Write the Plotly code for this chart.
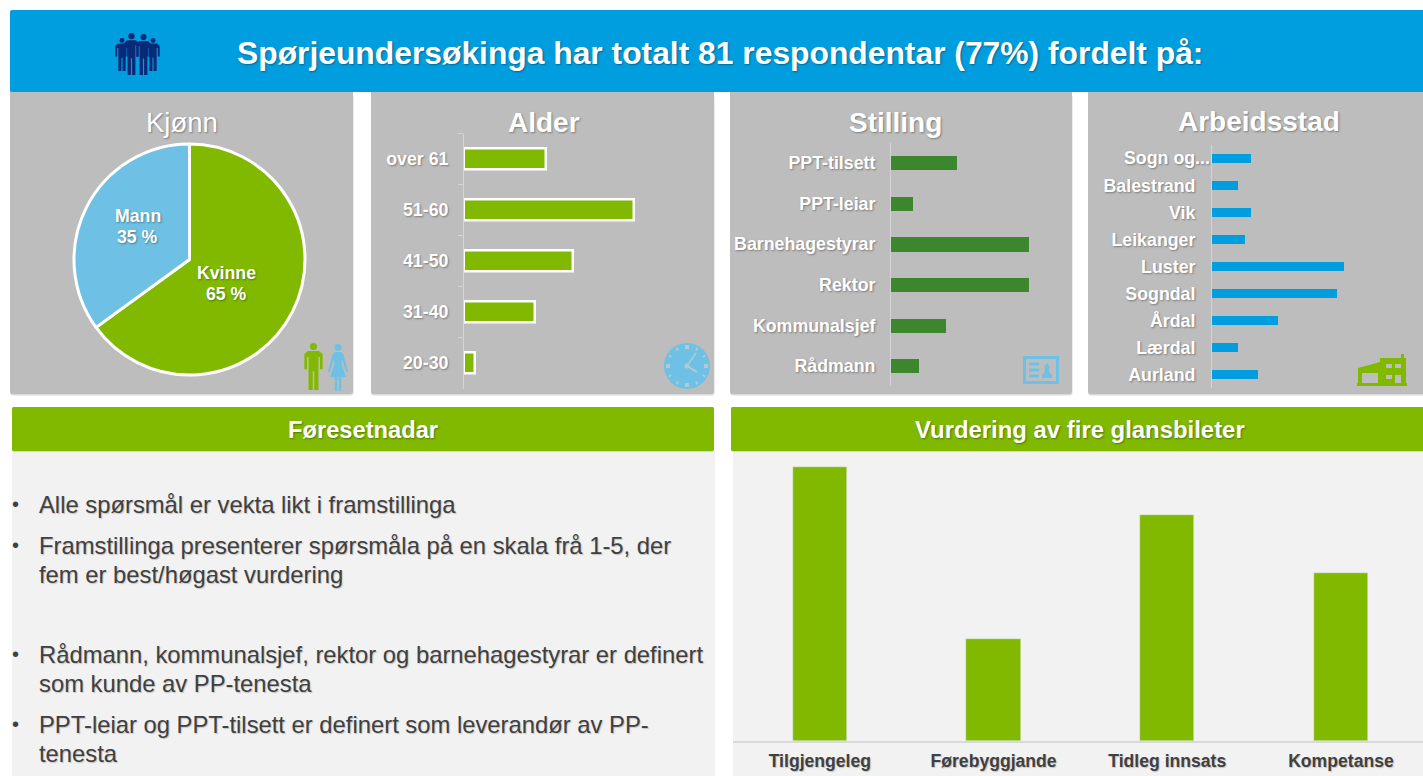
import math
import plotly.graph_objects as go

W, H = 1423, 776

TITLE = "Spørjeundersøkinga har totalt 81 respondentar (77%) fordelt på:"
gender_labels = ["Kvinne", "Mann"]
gender_values = [65, 35]
age_labels = ["over 61", "51-60", "41-50", "31-40", "20-30"]
age_values = [15, 31, 20, 13, 2]
job_labels = ["PPT-tilsett", "PPT-leiar", "Barnehagestyrar", "Rektor", "Kommunalsjef", "Rådmann"]
job_values = [12, 4, 25, 25, 10, 5]
place_labels = ["Sogn og...", "Balestrand", "Vik", "Leikanger", "Luster", "Sogndal", "Årdal", "Lærdal", "Aurland"]
place_values = [6, 4, 6, 5, 20, 19, 10, 4, 7]
score_labels = ["Tilgjengeleg", "Førebyggjande", "Tidleg innsats", "Kompetanse"]
score_values = [2.74, 1.02, 2.26, 1.68]
bullets = [
    ("Alle spørsmål er vekta likt i framstillinga", 504, True),
    ("Framstillinga presenterer spørsmåla på en skala frå 1-5, der", 545, True),
    ("fem er best/høgast vurdering", 574, False),
    ("Rådmann, kommunalsjef, rektor og barnehagestyrar er definert", 654, True),
    ("som kunde av PP-tenesta", 683, False),
    ("PPT-leiar og PPT-tilsett er definert som leverandør av PP-", 724, True),
    ("tenesta", 753, False),
]

GREEN, SKY, BLUE, DGREEN = "#80B900", "#6EC1E4", "#009EDF", "#3C862D"
GREY, LIGHT, NAVY, DARK = "#BDBDBD", "#F2F2F2", "#0A2A78", "#404040"
FONT = "Liberation Sans, Arial, sans-serif"
SHADOW = "1px 1px 2px rgba(0,0,0,0.35)"

px = lambda x: x / W
py = lambda y: 1 - y / H


def rrect(x0, y0, x1, y1, color, r=3, layer="below"):
    P = lambda x, y: f"{px(x):.5f},{py(y):.5f}"
    d = (f"M{P(x0 + r, y0)} L{P(x1 - r, y0)} Q{P(x1, y0)} {P(x1, y0 + r)} L{P(x1, y1 - r)} Q{P(x1, y1)} {P(x1 - r, y1)} "
         f"L{P(x0 + r, y1)} Q{P(x0, y1)} {P(x0, y1 - r)} L{P(x0, y0 + r)} Q{P(x0, y0)} {P(x0 + r, y0)} Z")
    return dict(type="path", xref="paper", yref="paper", path=d, fillcolor=color, line=dict(width=0), layer=layer)


def rect(x0, y0, x1, y1, color, layer="below"):
    return dict(type="rect", xref="paper", yref="paper", x0=px(x0), x1=px(x1), y0=py(y1), y1=py(y0),
                fillcolor=color, line=dict(width=0), layer=layer)


def circle(cx, cy, r, color, layer="above"):
    return dict(type="circle", xref="paper", yref="paper", x0=px(cx - r), x1=px(cx + r), y0=py(cy + r), y1=py(cy - r),
                fillcolor=color, line=dict(width=0), layer=layer)


def poly(pts, color):
    d = "M" + " L".join(f"{px(x):.5f},{py(y):.5f}" for x, y in pts) + " Z"
    return dict(type="path", xref="paper", yref="paper", path=d, fillcolor=color, line=dict(width=0), layer="above")


def seg(x0, y0, x1, y1, color, w=1.5):
    return dict(type="line", xref="paper", yref="paper", x0=px(x0), x1=px(x1), y0=py(y0), y1=py(y1),
                line=dict(color=color, width=w), layer="above")


MAN = [(.2, .17), (.8, .17), (.98, .24), (.98, .56), (.84, .56), (.84, .3), (.76, .3), (.76, 1), (.54, 1), (.54, .6),
       (.46, .6), (.46, 1), (.24, 1), (.24, .3), (.16, .3), (.16, .56), (.02, .56), (.02, .24)]
WOMAN = [(.36, .17), (.64, .17), (.76, .2), (1, .58), (.93, .61), (.7, .32), (.68, .42), (.9, .7), (.66, .7), (.66, 1),
         (.54, 1), (.54, .7), (.46, .7), (.46, 1), (.34, 1), (.34, .7), (.1, .7), (.32, .42), (.3, .32), (.07, .61), (0, .58), (.24, .2)]


def person(x0, y0, w, h, color, shape=MAN):
    return [poly([(x0 + a * w, y0 + b * h) for a, b in shape], color), circle(x0 + w / 2, y0 + .075 * h, .075 * h, color)]


shapes = []
for x0, x1 in [(10, 353), (371, 714), (730, 1072), (1088, 1426)]:
    shapes.append(rrect(x0, 94, x1 + 0.5, 395.5, "#DADADA"))
    shapes.append(rrect(x0, 88, x1, 394, GREY))
shapes += [
    rrect(10, 10, 1426, 92, BLUE, r=2),
    rect(12, 450, 715, 776, LIGHT), rect(733, 450, 1423, 776, LIGHT),
    rrect(12, 407, 714, 451.5, "#A9CF5A", r=2), rrect(731, 407, 1426, 451.5, "#A9CF5A", r=2),
    rrect(12, 407, 714, 451, GREEN, r=2), rrect(731, 407, 1426, 451, GREEN, r=2),
]
# icons
for x0, y0, w, h in [(115, 38, 14, 33), (146, 38, 14, 33), (124, 33, 15, 42), (136, 34, 15, 41)]:
    shapes += person(x0, y0, w, h, NAVY)
shapes += person(304, 343, 19, 47, GREEN)
shapes += person(328, 344, 20, 47, SKY, WOMAN)
shapes.append(circle(687, 366, 23, SKY))
for i in range(12):
    a = math.radians(i * 30)
    inner = 17 if i % 3 == 0 else 18
    w = 4 if i % 3 == 0 else 2
    shapes.append(seg(687 + inner * math.sin(a), 366 - inner * math.cos(a), 687 + 21 * math.sin(a), 366 - 21 * math.cos(a), "#B5C9D2", w))
shapes += [seg(687, 366, 696, 353, "#B5C9D2", 1.5), seg(687, 366, 697, 372, "#B5C9D2", 2), circle(687, 366, 2.5, "#B5C9D2")]
shapes.append(dict(type="rect", xref="paper", yref="paper", x0=px(1024.5), x1=px(1057.5), y0=py(382.5), y1=py(357.5),
                   fillcolor="rgba(0,0,0,0)", line=dict(color=SKY, width=3), layer="above"))
for y in (364, 370, 376):
    shapes.append(seg(1029, y, 1039, y, SKY, 3))
shapes.append(poly([(1042, 378), (1052, 378), (1052, 375), (1049, 372), (1049.5, 366), (1047, 363), (1044.5, 366), (1045, 372), (1042, 375)], SKY))
shapes.append(poly([(1357, 386), (1357, 383), (1358, 383), (1358, 368), (1380, 362), (1380, 358), (1401, 358), (1401, 354),
                    (1404, 354), (1404, 358), (1406, 358), (1406, 383), (1407, 383), (1407, 386)], GREEN))
for x0, y0, x1, y1 in [(1362, 373, 1378, 383), (1386, 364, 1392, 368), (1395, 364, 1401, 368), (1386, 375, 1392, 379), (1395, 375, 1401, 383)]:
    shapes.append(rect(x0, y0, x1, y1, GREY, layer="above"))


def ann(text, x, y, size, color="white", bold=False, anchor="center", shadow=SHADOW):
    return dict(text=f"<b>{text}</b>" if bold else text, xref="paper", yref="paper", x=px(x), y=py(y), showarrow=False,
                xanchor=anchor, yanchor="middle", borderpad=0, borderwidth=0,
                font=dict(family=FONT, size=size, color=color, shadow=shadow))


annotations = [
    ann(TITLE, 720, 53, 31.8, bold=True),
    ann("Kjønn", 181.5, 122, 27.5),
    ann("Alder", 544, 122, 28, bold=True),
    ann("Stilling", 895.5, 122, 28, bold=True),
    ann("Arbeidsstad", 1259, 121, 28, bold=True),
    ann("Føresetnadar", 363, 430, 23.7, bold=True),
    ann("Vurdering av fire glansbileter", 1080, 429.5, 23.9, bold=True),
    ann(place_labels[0], 1124, 158, 17.8, bold=True, anchor="left"),
    ann(gender_labels[0], 226.5, 272.5, 17.7, bold=True),
    ann(f"{gender_values[0]} %", 226.5, 293.5, 17.7, bold=True),
    ann(gender_labels[1], 137.5, 215.5, 17.7, bold=True),
    ann(f"{gender_values[1]} %", 137.5, 236.5, 17.7, bold=True),
]
for text, y, has_bullet in bullets:
    annotations.append(ann(text, 39, y, 23.8, color=DARK, anchor="left", shadow="1px 1px 1px rgba(0,0,0,0.2)"))
    if has_bullet:
        annotations.append(ann("•", 15, y, 20, color=DARK, shadow="none"))

fig = go.Figure()
fig.add_trace(go.Pie(labels=gender_labels, values=gender_values, sort=False, direction="clockwise", rotation=0,
                     marker=dict(colors=[GREEN, SKY], line=dict(color="white", width=3)),
                     textinfo="none", showlegend=False,
                     domain=dict(x=[px(74), px(305)], y=[py(375), py(144)])))


def hbar(labels, values, color, n, x_axis, x_right, unit, top, bottom, gap, line=None):
    fig.add_trace(go.Bar(y=labels, x=values, orientation="h", marker=dict(color=color, line=line or dict(width=0)),
                         width=1 - gap, xaxis=f"x{n}", yaxis=f"y{n}", showlegend=False))
    fig.update_layout(**{
        f"xaxis{n}": dict(domain=[px(x_axis), px(x_right)], range=[0, (x_right - x_axis) / unit], visible=False, anchor=f"y{n}"),
        f"yaxis{n}": dict(domain=[py(bottom), py(top)], anchor=f"x{n}", autorange="reversed", type="category",
                          showline=True, linecolor="#D4D4D4", linewidth=1, showgrid=False, zeroline=False,
                          tickfont=dict(family=FONT, size=17.8, color="white", shadow=SHADOW)),
    })


hbar(age_labels, age_values, GREEN, 1, 464, 700, 5.47, 133.5, 388.5, 0.6, dict(color="white", width=2.5))
hbar(job_labels, job_values, DGREEN, 2, 891, 1060, 5.53, 142.7, 386.3, 0.65)
hbar(place_labels, place_values, BLUE, 3, 1212, 1400, 6.58, 145, 388, 0.64)
fig.update_layout(
    yaxis1=dict(ticks="outside", tickson="boundaries", ticklen=5, tickcolor="#D4D4D4", ticklabelstandoff=11,
                tickmode="array", tickvals=age_labels, ticktext=[f"<b>{t}</b>" for t in age_labels]),
    yaxis2=dict(ticks="", ticklabelstandoff=11, tickmode="array", tickvals=job_labels,
                ticktext=[f"<b>{t}</b>" for t in job_labels]),
    yaxis3=dict(ticks="", ticklabelstandoff=12, tickmode="array", tickvals=place_labels,
                ticktext=[""] + [f"<b>{t}</b>" for t in place_labels[1:]]),
)

fig.add_trace(go.Bar(x=score_labels, y=score_values, marker=dict(color=GREEN), width=0.313, xaxis="x4", yaxis="y4", showlegend=False))
fig.update_layout(
    xaxis4=dict(domain=[px(733), 1], range=[-0.5, (W - 733) / 173.7 - 0.5], type="category", anchor="y4", showline=True,
                linecolor="#D9D9D9", linewidth=2, ticks="", showgrid=False, ticklabelstandoff=3,
                tickmode="array", tickvals=score_labels, ticktext=[f"<b>{t}</b>" for t in score_labels],
                tickfont=dict(family=FONT, size=17.6, color=DARK, shadow="1px 1px 1px rgba(0,0,0,0.2)")),
    yaxis4=dict(domain=[py(741), py(452)], range=[0, 2.89], visible=False, anchor="x4"),
)

fig.update_layout(width=W, height=H, margin=dict(l=0, r=0, t=0, b=0), paper_bgcolor="white", plot_bgcolor="rgba(0,0,0,0)",
                  shapes=shapes, annotations=annotations, font=dict(family=FONT), bargap=0)
fig.write_html("out.html", config=dict(displayModeBar=False),
               post_script="document.body.style.margin='0';document.body.style.overflow='hidden';")
